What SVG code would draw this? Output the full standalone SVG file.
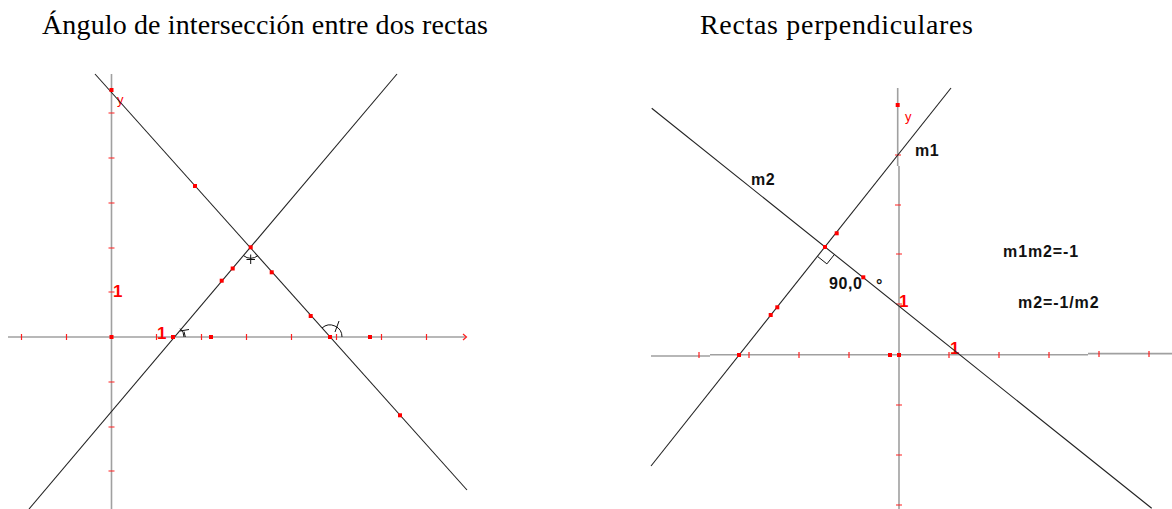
<svg xmlns="http://www.w3.org/2000/svg" width="1172" height="509" viewBox="0 0 1172 509">
<style>
.title{font-family:"Liberation Serif","Times New Roman",serif;font-size:28px;fill:#000}
.axis{stroke:#a0a0a0;stroke-width:1.6;fill:none}
.tick{stroke:#ff2020;stroke-width:1.2}
.ln{stroke:#222;stroke-width:1.1;fill:none}
.mk{stroke:#111;stroke-width:1;fill:none}
.pt{fill:#ff0000}
.rlab{font-family:"Liberation Sans",Arial,sans-serif;font-size:17px;font-weight:bold;fill:#ff0000}
.ylab{font-family:"Liberation Sans",Arial,sans-serif;font-size:13px;fill:#ff0000}
.blab{font-family:"Liberation Sans",Arial,sans-serif;font-size:16px;font-weight:bold;fill:#111;letter-spacing:0.6px}
.flab{font-family:"Liberation Sans",Arial,sans-serif;font-size:16px;font-weight:bold;fill:#111;letter-spacing:0.9px}
</style>
<defs>
<rect id="p" x="-2" y="-2" width="4" height="4" class="pt"/>
</defs>
<rect width="1172" height="509" fill="#ffffff"/>
<g id="titles">
<text class="title" x="42" y="34" textLength="446" lengthAdjust="spacing">Ángulo de intersección entre dos rectas</text>
<text class="title" x="700" y="34" textLength="273" lengthAdjust="spacing">Rectas perpendiculares</text>
</g>
<g id="left-plot">
<g id="left-axes">
<line class="axis" x1="8" y1="337" x2="466" y2="337"/>
<line class="axis" x1="111.5" y1="74" x2="111.5" y2="509"/>
<path class="tick" d="M21.5,334V340M66.5,334V340M156.5,334V340M201.5,334V340M246.5,334V340M291.5,334V340M336.5,334V340M381.5,334V340M426.5,334V340"/>
<path class="tick" d="M108.5,113H114.5M108.5,158H114.5M108.5,203H114.5M108.5,248H114.5M108.5,292H114.5M108.5,382H114.5M108.5,427H114.5M108.5,471H114.5"/>
<path d="M463,334L466.5,337L463,340" stroke="#ff2020" stroke-width="1.2" fill="none"/>
<text class="ylab" x="117" y="104">y</text>
<text class="rlab" x="113" y="297">1</text>
<text class="rlab" x="157" y="339">1</text>
</g>
<g id="left-lines">
<line class="ln" x1="29" y1="509" x2="397" y2="74"/>
<line class="ln" x1="95" y1="74" x2="467" y2="490"/>
</g>
<g id="left-angles">
<path class="mk" d="M243.6,255.7A11,11 0 0 0 258,255.5"/>
<path class="mk" d="M250.7,254.5V264M246.5,259.5H255"/>
<path class="mk" d="M322,328A12,12 0 0 1 342,337"/>
<path class="mk" d="M335,332L339,321"/>
<path class="mk" d="M180.1,328.6A11,11 0 0 1 184,337"/>
<path class="mk" d="M180,331L189,329.5M184,331.5L185.3,337"/>
</g>
<g id="left-points">
<use href="#p" x="111.5" y="90"/>
<use href="#p" x="111.5" y="337"/>
<use href="#p" x="211" y="337"/>
<use href="#p" x="370" y="337"/>
<use href="#p" x="173" y="337"/>
<use href="#p" x="330" y="337"/>
<use href="#p" x="250.7" y="247.3"/>
<use href="#p" x="232.7" y="268.5"/>
<use href="#p" x="221.7" y="280.7"/>
<use href="#p" x="195" y="186"/>
<use href="#p" x="271.7" y="272.3"/>
<use href="#p" x="310.7" y="316"/>
<use href="#p" x="400" y="415.3"/>
</g>
</g>
<g id="right-plot">
<g id="right-axes">
<path class="axis" d="M651,356H710M710,354.8H1088M1088,353.6H1172"/>
<path class="axis" d="M897.7,88V166M899,166V509"/>
<path class="tick" d="M699,352V358M749,352V358M799,352V358M849,352V358M949,352V358M999,352V358M1049,352V358M1099,351V357M1149,351V357"/>
<path class="tick" d="M895,155H901M895,205H901M896,254H902M896,304H902M896,405H902M896,455H902M896,505H902"/>
<text class="ylab" x="905" y="121">y</text>
<text class="rlab" x="899" y="307">1</text>
<text class="rlab" x="950" y="354">1</text>
</g>
<g id="right-lines">
<line class="ln" x1="651" y1="466" x2="951" y2="88"/>
<line class="ln" x1="651.7" y1="108.3" x2="1151.7" y2="508.3"/>
</g>
<g id="right-angle">
<polyline class="mk" points="817.5,256.4 826.9,263.9 834.4,254.5"/>
</g>
<g id="right-points">
<use href="#p" x="897.7" y="105"/>
<use href="#p" x="825" y="247"/>
<use href="#p" x="836.7" y="233.3"/>
<use href="#p" x="770.7" y="315"/>
<use href="#p" x="777.3" y="307.3"/>
<use href="#p" x="863.3" y="277.3"/>
<use href="#p" x="739" y="355"/>
<use href="#p" x="890" y="355"/>
<use href="#p" x="899" y="355"/>
</g>
<g id="right-labels">
<text class="blab" x="915" y="156">m1</text>
<text class="blab" x="751" y="185">m2</text>
<text class="blab" x="829" y="289">90,0</text>
<text class="blab" x="876" y="291">°</text>
<text class="flab" x="1003" y="257">m1m2=-1</text>
<text class="flab" x="1018" y="308">m2=-1/m2</text>
</g>
</g>
</svg>
